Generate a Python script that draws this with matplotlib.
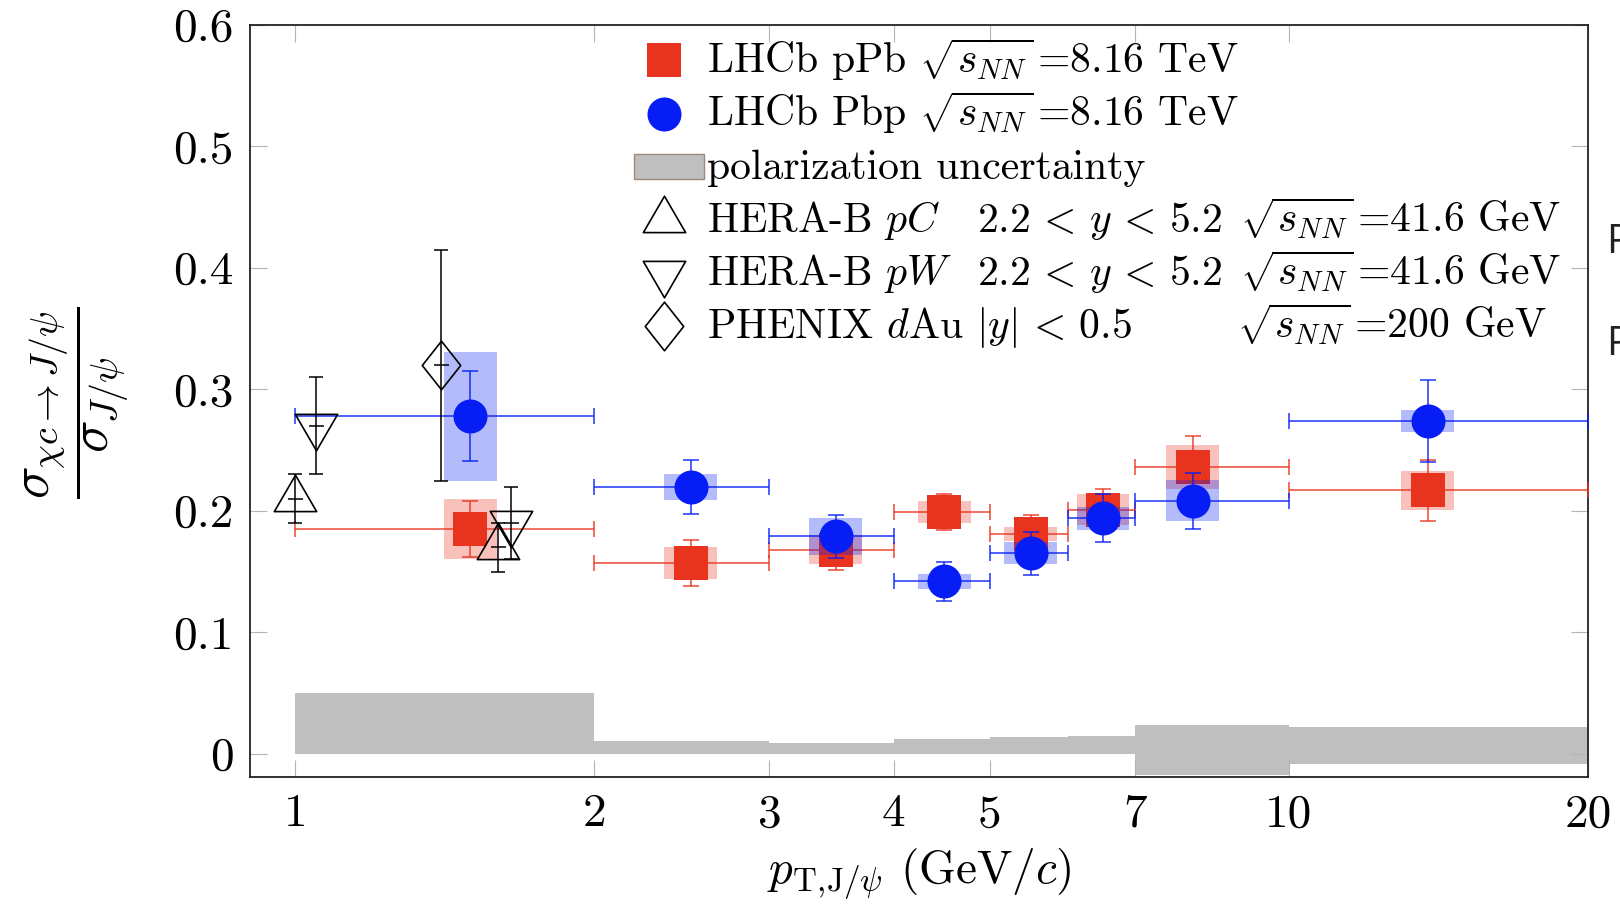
import numpy as np
import matplotlib.pyplot as plt
from matplotlib.path import Path
from matplotlib.patches import Rectangle
from matplotlib.ticker import FixedLocator, NullLocator

plt.rcParams['font.family'] = 'cmr10'
plt.rcParams['mathtext.fontset'] = 'cm'
plt.rcParams['axes.unicode_minus'] = False
plt.rcParams['axes.formatter.use_mathtext'] = True

# pT bins (GeV/c) and mean pT of each bin
bin_lo = np.array([1, 2, 3, 4, 5, 6, 7, 10])
bin_hi = np.array([2, 3, 4, 5, 6, 7, 10, 20])
pt_mean = np.array([1.5, 2.5, 3.5, 4.5, 5.5, 6.5, 8.0, 13.8])

# LHCb pPb
ppb_val = np.array([0.185, 0.157, 0.168, 0.199, 0.181, 0.201, 0.236, 0.217])
ppb_stat = np.array([0.023, 0.019, 0.017, 0.015, 0.016, 0.017, 0.026, 0.025])
ppb_syst = np.array([0.025, 0.013, 0.012, 0.009, 0.006, 0.013, 0.018, 0.016])

# LHCb Pbp
pbp_val = np.array([0.278, 0.2195, 0.179, 0.142, 0.165, 0.194, 0.2085, 0.274])
pbp_stat = np.array([0.037, 0.022, 0.0175, 0.016, 0.018, 0.020, 0.023, 0.034])
pbp_syst = np.array([0.053, 0.0105, 0.0155, 0.006, 0.009, 0.0095, 0.017, 0.009])

# polarization uncertainty band
pol_lo = np.array([0, 0, 0, 0, 0, 0, -0.017, -0.008])
pol_hi = np.array([0.050, 0.0105, 0.0093, 0.0126, 0.0137, 0.0145, 0.0235, 0.0225])

# HERA-B and PHENIX
herab_pc_x = [1.0, 1.6]
herab_pc_y = [0.21, 0.17]
herab_pc_err = [0.02, 0.02]
herab_pw_x = [1.05, 1.65]
herab_pw_y = [0.27, 0.19]
herab_pw_err = [0.04, 0.03]
phenix_x = [1.4]
phenix_y = [0.32]
phenix_err = [0.095]

xticks = [1, 2, 3, 4, 5, 7, 10, 20]
yticks = [0, 0.1, 0.2, 0.3, 0.4, 0.5, 0.6]

red = '#e8341f'
blue = '#061ef5'
gray = '#bfbfbf'

tri_up = Path([(0, 24.7), (-21.5, -12.3), (21.5, -12.3), (0, 24.7)], closed=True)
tri_down = Path([(0, -24.7), (-21.5, 12.3), (21.5, 12.3), (0, -24.7)], closed=True)
diamond = Path([(0, 23.8), (18.8, 0), (0, -23.8), (-18.8, 0), (0, 23.8)], closed=True)

fig = plt.figure(figsize=(16.2, 9.13), dpi=100)
ax = fig.add_axes([0.1543, 0.149, 0.8259, 0.8237])
ax.set_xscale('log')
ax.set_xlim(0.9, 20)
ax.set_ylim(-0.019, 0.6)

# polarization band
edges = np.append(bin_lo, bin_hi[-1])
ax.fill_between(edges, np.append(pol_lo, pol_lo[-1]), np.append(pol_hi, pol_hi[-1]),
                step='post', color=gray, lw=0, zorder=1)

box_f = 1.0633
xerr = [pt_mean - bin_lo, bin_hi - pt_mean]

# pPb: systematic boxes, error bars, markers
ax.bar(pt_mean / box_f, 2 * ppb_syst, width=pt_mean * (box_f - 1 / box_f), bottom=ppb_val - ppb_syst,
       align='edge', color=red, alpha=0.3, lw=0, zorder=2)
ax.errorbar(pt_mean, ppb_val, xerr=xerr, yerr=ppb_stat, fmt='none', ecolor=red, alpha=0.9,
            elinewidth=1.1, capsize=5.5, capthick=1.1, zorder=3)
ax.plot(pt_mean, ppb_val, 's', color=red, ms=25, mew=0, zorder=4)

# Pbp
ax.bar(pt_mean / box_f, 2 * pbp_syst, width=pt_mean * (box_f - 1 / box_f), bottom=pbp_val - pbp_syst,
       align='edge', color=blue, alpha=0.3, lw=0, zorder=5)
ax.errorbar(pt_mean, pbp_val, xerr=xerr, yerr=pbp_stat, fmt='none', ecolor=blue, alpha=0.9,
            elinewidth=1.1, capsize=5.5, capthick=1.1, zorder=6)
ax.plot(pt_mean, pbp_val, 'o', color=blue, ms=24.5, mew=0, zorder=7)

# older measurements
for xs, ys, es, mk in [(herab_pc_x, herab_pc_y, herab_pc_err, tri_up),
                       (herab_pw_x, herab_pw_y, herab_pw_err, tri_down),
                       (phenix_x, phenix_y, phenix_err, diamond)]:
    ax.errorbar(xs, ys, yerr=es, fmt='none', ecolor='black', elinewidth=1.1,
                capsize=5.3, capthick=1.1, zorder=8)
    ax.plot(xs, ys, linestyle='none', marker=mk, ms=35, mfc='none', mec='black', mew=1.2, zorder=9)
    ax.plot(xs, ys, linestyle='none', marker='_', ms=10.8, mec='black', mew=1.1, zorder=9)

# axes styling
ax.xaxis.set_major_locator(FixedLocator(xticks))
ax.xaxis.set_minor_locator(NullLocator())
ax.set_xticklabels([str(t) for t in xticks])
ax.set_yticks(yticks)
ax.set_yticklabels(['0', '0.1', '0.2', '0.3', '0.4', '0.5', '0.6'])
ax.tick_params(which='both', direction='in', length=12.5, width=0.8, color='#b4b4b4',
               top=True, right=True, labelsize=34, pad=12)
for s in ax.spines.values():
    s.set_linewidth(1.3)
    s.set_color('#222222')

ax.set_xlabel(r'$p_{\mathrm{T,\!J}/\psi}$ (GeV/$c$)', fontsize=34, labelpad=8)
fig.text(0.048, 0.559, r'$\dfrac{\sigma_{\chi c\rightarrow J/\psi}}{\sigma_{J/\psi}}$',
         rotation=90, ha='center', va='center', fontsize=39)

# legend
mx, tx, c2x, c3x = 0.3097, 0.3419, 0.5434, 0.7429
rows_m = [0.9531, 0.8817, 0.8112, 0.7407, 0.6702, 0.5991]
rows_t = [0.9358, 0.8650, 0.7952, 0.7251, 0.6543, 0.5838]
lfs = 30
ax.plot([mx], [rows_m[0]], 's', color=red, ms=25, mew=0, transform=ax.transAxes, clip_on=False)
ax.plot([mx], [rows_m[1]], 'o', color=blue, ms=24.5, mew=0, transform=ax.transAxes, clip_on=False)
ax.add_patch(Rectangle((0.2873, rows_m[2] - 0.0166), 0.0523, 0.0332, transform=ax.transAxes,
                       facecolor=gray, edgecolor='#a08878', lw=1.0))
for r, mk in zip(rows_m[3:], [tri_up, tri_down, diamond]):
    ax.plot([mx], [r], linestyle='none', marker=mk, ms=35, mfc='none', mec='black', mew=1.2,
            transform=ax.transAxes, clip_on=False)

ax.text(tx, rows_t[0], r'LHCb pPb $\sqrt{s_{NN}}\,$=8.16 TeV', fontsize=lfs, transform=ax.transAxes)
ax.text(tx, rows_t[1], r'LHCb Pbp $\sqrt{s_{NN}}\,$=8.16 TeV', fontsize=lfs, transform=ax.transAxes)
ax.text(tx, rows_t[2], 'polarization uncertainty', fontsize=lfs, transform=ax.transAxes)
ax.text(tx, rows_t[3], r'HERA-B $pC$', fontsize=lfs, transform=ax.transAxes)
ax.text(tx, rows_t[4], r'HERA-B $pW$', fontsize=lfs, transform=ax.transAxes)
ax.text(tx, rows_t[5], r'PHENIX $d$Au $|y|\,<\,0.5$', fontsize=lfs, transform=ax.transAxes)
ax.text(c2x, rows_t[3], r'$2.2\,<\,y\,<\,5.2$', fontsize=lfs, transform=ax.transAxes)
ax.text(c2x, rows_t[4], r'$2.2\,<\,y\,<\,5.2$', fontsize=lfs, transform=ax.transAxes)
ax.text(c3x - 0.003, rows_t[3], r'$\sqrt{s_{NN}}\,$=41.6 GeV', fontsize=lfs, transform=ax.transAxes)
ax.text(c3x - 0.003, rows_t[4], r'$\sqrt{s_{NN}}\,$=41.6 GeV', fontsize=lfs, transform=ax.transAxes)
ax.text(c3x - 0.005, rows_t[5], r'$\sqrt{s_{NN}}\,$=200 GeV', fontsize=lfs, transform=ax.transAxes)

# letters of a neighbouring panel cut at the right edge
fig.text(0.9914, 0.7229, 'P', fontsize=29, family='Open Sans', color='#222222')
fig.text(0.9914, 0.6112, 'P', fontsize=29, family='Open Sans', color='#222222')

fig.savefig('out.png', dpi=100)
